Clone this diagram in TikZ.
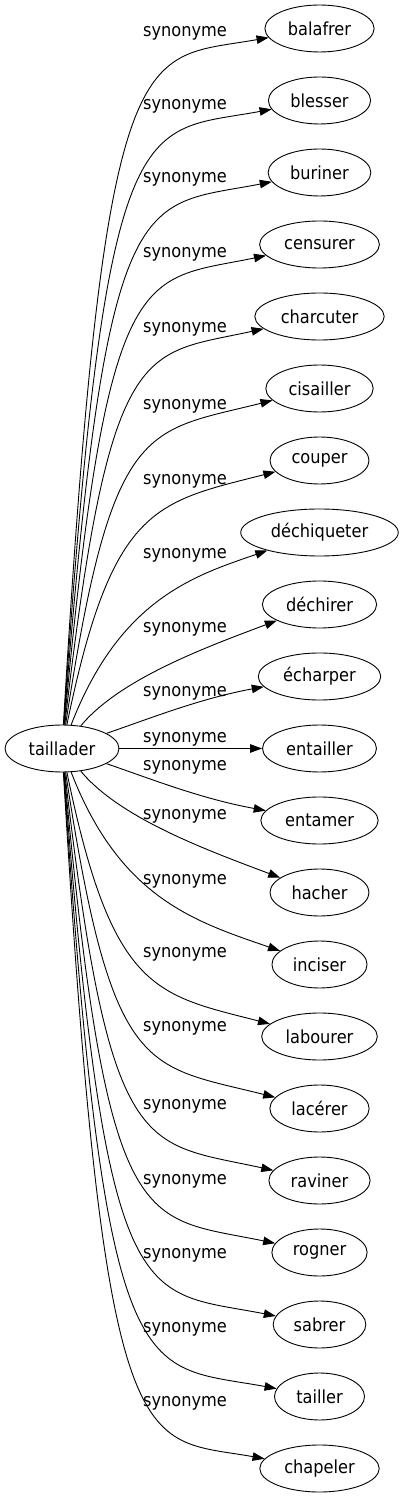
\documentclass[tikz,border=0pt]{standalone}
\usepackage{fontspec}
\setmainfont{DejaVu Sans Condensed}
\usetikzlibrary{arrows.meta, calc, shapes.geometric}
\tikzset{
  mot/.style={draw, ellipse, line width=0.9pt, minimum width=90pt,
              minimum height=47pt, inner xsep=7pt, inner ysep=2pt,
              font=\fontsize{18}{20}\selectfont},
  syn/.style={-{Triangle[length=12pt, width=8.5pt]}, line width=0.9pt},
  lbl/.style={font=\fontsize{18}{20}\selectfont, inner sep=0pt},
}

\begin{document}
\begin{tikzpicture}[x=1pt, y=1pt]
  \useasboundingbox (0,-750.5) rectangle (401,748.5);

  %% source word
  \node[mot] (taillader) at (62,0) {taillader};

  %% target words, upper half
  \foreach \nm/\txt/\j in {balafrer/balafrer/10, blesser/blesser/9,
      buriner/buriner/8, censurer/censurer/7, charcuter/charcuter/6,
      cisailler/cisailler/5, couper/couper/4, dechiqueter/déchiqueter/3,
      dechirer/déchirer/2, echarper/écharper/1}{
    \node[mot] (\nm) at (319.5, 72*\j) {\txt};
  }
  \node[mot] (entailler) at (319.5,0) {entailler};
  %% target words, lower half
  \foreach \nm/\txt/\j in {entamer/entamer/1, hacher/hacher/2,
      inciser/inciser/3, labourer/labourer/4, lacerer/lacérer/5,
      raviner/raviner/6, rogner/rogner/7, sabrer/sabrer/8,
      tailler/tailler/9, chapeler/chapeler/10}{
    \node[mot] (\nm) at (319.5, -72*\j) {\txt};
  }

  %% edges (same bend above and below, mirrored)
  \foreach \nm/\j/\ax/\ay/\bx/\by in {balafrer/10/105/8/140/-32,
      blesser/9/106/4/140/-33, buriner/8/107/-2/140/-35,
      censurer/7/108/-10/141/-37, charcuter/6/110/-18/142/-39,
      cisailler/5/112/-30/145/-44, couper/4/112/-45/155/-42,
      dechiqueter/3/120/-66/195/-43, dechirer/2/120/-74/208/-42,
      echarper/1/150/-42/200/-22}{
    \draw[syn] (taillader) .. controls (\ax, {72*\j+\ay}) and (\bx, {72*\j+\by}) .. (\nm);
  }
  \draw[syn] (taillader) -- (entailler);
  \foreach \nm/\j/\ax/\ay/\bx/\by in {chapeler/10/105/8/140/-32,
      tailler/9/106/4/140/-33, sabrer/8/107/-2/140/-35,
      rogner/7/108/-10/141/-37, raviner/6/110/-18/142/-39,
      lacerer/5/112/-30/145/-44, labourer/4/112/-45/155/-42,
      inciser/3/120/-66/195/-43, hacher/2/120/-74/208/-42,
      entamer/1/150/-42/200/-22}{
    \draw[syn] (taillader) .. controls (\ax, {-(72*\j+\ay)}) and (\bx, {-(72*\j+\by)}) .. (\nm);
  }

  %% edge labels
  \foreach \y [count=\i] in {715, 642, 569, 494, 419, 342, 267, 193, 119, 55, 9,
      -19, -68, -133, -206, -280, -358, -433, -507, -581, -655}{
    \node[lbl] (syn\i) at (185,\y) {synonyme};
  }
\end{tikzpicture}
\end{document}
